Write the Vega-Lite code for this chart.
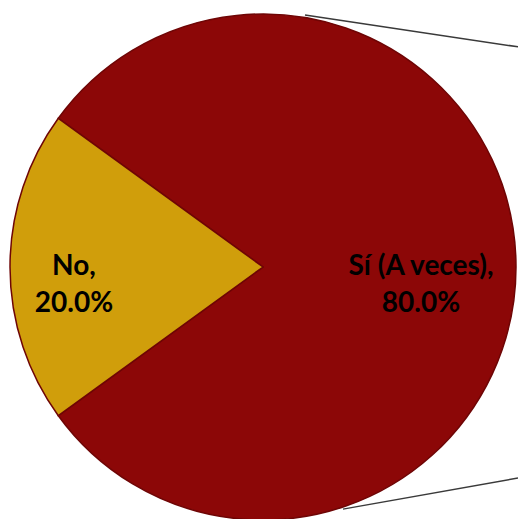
{
  "$schema": "https://vega.github.io/schema/vega-lite/v6.json",
  "width": 510,
  "height": 504,
  "padding": {"left": 8, "top": 15, "right": 0, "bottom": 0},
  "autosize": {"type": "none"},
  "background": "#ffffff",
  "config": {"view": {"stroke": null}},
  "layer": [
    {
      "data": {"values": [
        {"x1": 0.166, "y1": 0.996, "x2": 1.008, "y2": 0.870},
        {"x1": 0.316, "y1": -0.957, "x2": 1.008, "y2": -0.834}
      ]},
      "mark": {"type": "rule", "color": "#3a3a3a", "strokeWidth": 1.5},
      "encoding": {
        "x": {"field": "x1", "type": "quantitative", "scale": {"domain": [-1.008, 1.008]}, "axis": null},
        "y": {"field": "y1", "type": "quantitative", "scale": {"domain": [-0.996, 0.996]}, "axis": null},
        "x2": {"field": "x2"},
        "y2": {"field": "y2"}
      }
    },
    {
      "data": {"values": [
        {"cat": "Sí (A veces)", "value": 80, "order": 1, "label": "Sí (A veces),\n80.0%"},
        {"cat": "No", "value": 20, "order": 2, "label": "No,\n20.0%"}
      ]},
      "encoding": {
        "theta": {"field": "value", "type": "quantitative", "stack": true, "scale": {"range": [-0.9425, 5.3407]}},
        "order": {"field": "order", "type": "quantitative"}
      },
      "layer": [
        {
          "mark": {"type": "arc", "outerRadius": 253, "stroke": "#6e0505", "strokeWidth": 1.5},
          "encoding": {
            "color": {"field": "cat", "type": "nominal", "legend": null,
              "scale": {"domain": ["Sí (A veces)", "No"], "range": ["#8c0707", "#d09e0b"]}}
          }
        },
        {
          "mark": {"type": "text", "radius": {"expr": "datum.cat == 'No' ? 189 : 158"}, "font": "Lato", "fontWeight": "bold", "fontSize": 28, "lineBreak": "\n", "lineHeight": 37, "color": "#000000", "align": "center", "baseline": "middle"},
          "encoding": {
            "text": {"field": "label", "type": "nominal"}
          }
        }
      ]
    }
  ]
}
